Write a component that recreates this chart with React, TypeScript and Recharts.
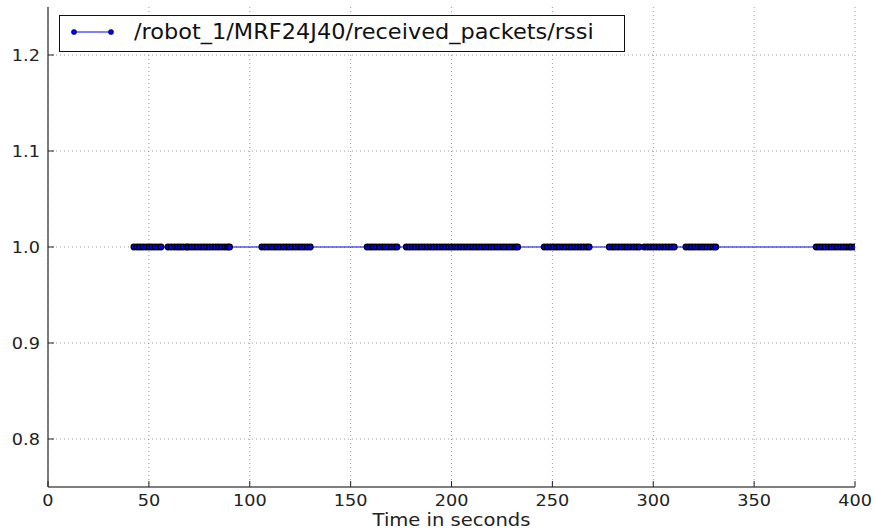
import React from "react";
import { LineChart, Line, XAxis, YAxis, CartesianGrid } from "recharts";

const times: number[] = [
  42.6, 44.1, 45.5, 47.0, 48.6, 50.1, 51.5, 53.0, 54.6, 56.0,
  59.5, 61.0, 62.6, 64.1, 65.5, 67.0, 68.6, 69.5,
  71.0, 72.5, 74.0, 75.6, 77.1, 78.5, 80.0, 81.6, 83.1, 84.5, 86.0, 87.6, 89.0, 90.0,
  106.0, 107.5, 109.0, 110.6, 112.1, 113.5, 115.0, 116.6, 118.1, 119.5, 121.0, 122.6, 124.1, 125.5, 127.0, 128.6, 130.0,
  158.2, 159.7, 161.1, 162.6, 164.2, 165.7, 167.1, 168.6, 170.2, 171.7, 173.0,
  177.6, 179.1, 180.6, 182.1, 183.6, 185.1, 186.6, 188.1, 189.6, 191.1, 192.6, 194.1, 195.6, 197.1, 198.6,
  200.1, 201.6, 203.1, 204.6, 206.1, 207.6, 209.1, 210.6, 212.1, 213.6, 215.1, 216.6, 218.1, 219.6,
  221.1, 222.6, 224.1, 225.6, 227.1, 228.6, 230.1, 231.6, 232.8,
  246.0, 247.5, 249.0, 250.6, 252.1, 253.5, 255.0, 256.6, 258.1, 259.5, 261.0, 262.6, 264.1, 265.5, 267.0, 268.2,
  278.2, 279.7, 281.1, 282.6, 284.2, 285.7, 287.1, 288.6, 290.2, 291.7, 293.0,
  295.6, 297.1, 298.6, 300.1, 301.6, 303.1, 304.6, 306.1, 307.6, 309.1, 310.4,
  316.2, 317.7, 319.1, 320.6, 322.2, 323.7, 325.1, 326.6, 328.2, 329.7, 331.0,
  380.8, 382.3, 383.7, 385.2, 386.8, 388.3, 389.7, 391.2, 392.8, 394.3, 395.7, 397.2, 398.2, 399.8,
];
const rssiValue = 1.0;
const xTicks: number[] = [0, 50, 100, 150, 200, 250, 300, 350, 400];
const yTicks: number[] = [0.8, 0.9, 1.0, 1.1, 1.2];
const seriesName = "/robot_1/MRF24J40/received_packets/rssi";
const xLabel = "Time in seconds";

const data = times.map((t) => ({ t, v: rssiValue }));

const FONT = "DejaVu Sans, sans-serif";
const TICK_COLOR = "#222";
const SPINE = "#555";
const STRETCH = 1.18;

const XTickBottom = (props: any) => {
  const { x, y, payload } = props;
  return (
    <g>
      <line x1={x} x2={x} y1={y} y2={y - 6} stroke={TICK_COLOR} strokeWidth={1} />
      <g transform={`translate(${x},${y + 19}) scale(${STRETCH},1)`}>
        <text x={0} y={0} textAnchor="middle" fontFamily={FONT} fontSize={15} fill="#222">
          {payload.value}
        </text>
      </g>
    </g>
  );
};
const XTickTop = (props: any) => {
  const { x, y } = props;
  return <line x1={x} x2={x} y1={y} y2={y + 6} stroke={TICK_COLOR} strokeWidth={1} />;
};
const YTickLeft = (props: any) => {
  const { x, y, payload } = props;
  return (
    <g>
      <line x1={x} x2={x + 6} y1={y} y2={y} stroke={TICK_COLOR} strokeWidth={1} />
      <g transform={`translate(${x - 8},${y + 5.5}) scale(${STRETCH},1)`}>
        <text x={0} y={0} textAnchor="end" fontFamily={FONT} fontSize={15} fill="#222">
          {Number(payload.value).toFixed(1)}
        </text>
      </g>
    </g>
  );
};
const YTickRight = (props: any) => {
  const { x, y } = props;
  return <line x1={x} x2={x - 6} y1={y} y2={y} stroke={TICK_COLOR} strokeWidth={1} />;
};

const XAxisLabel = (props: any) => {
  const vb = props.viewBox || {};
  const cx = vb.x + vb.width / 2;
  const by = vb.y + 39;
  return (
    <g transform={`translate(${cx},${by}) scale(1.15,1)`}>
      <text x={0} y={0} textAnchor="middle" fontFamily={FONT} fontSize={17} fill="#222">
        {xLabel}
      </text>
    </g>
  );
};

export default function App() {
  return (
    <div style={{ position: "absolute", left: 0, top: 0, width: 875, height: 531, background: "#fff" }}>
      <LineChart width={875} height={531} data={data} margin={{ top: 7, right: 20, bottom: 0, left: 0 }}>
        <CartesianGrid
          stroke="#999"
          strokeDasharray="1 3"
          horizontalValues={yTicks}
          verticalValues={xTicks}
        />
        <XAxis
          dataKey="t"
          type="number"
          domain={[0, 400]}
          ticks={xTicks}
          height={44}
          tickSize={0}
          tickMargin={0}
          tickLine={false}
          axisLine={{ stroke: SPINE, strokeWidth: 1.5 }}
          tick={<XTickBottom />}
          interval={0}
          allowDataOverflow
          label={<XAxisLabel />}
        />
        <XAxis
          xAxisId="top"
          orientation="top"
          dataKey="t"
          type="number"
          domain={[0, 400]}
          ticks={xTicks}
          height={0}
          tickSize={0}
          tickMargin={0}
          tickLine={false}
          axisLine={{ stroke: SPINE, strokeWidth: 1.5 }}
          tick={<XTickTop />}
          interval={0}
        />
        <YAxis
          type="number"
          domain={[0.75, 1.25]}
          ticks={yTicks}
          width={48}
          tickSize={0}
          tickMargin={0}
          tickLine={false}
          axisLine={{ stroke: SPINE, strokeWidth: 1.5 }}
          tick={<YTickLeft />}
          interval={0}
          allowDataOverflow
        />
        <YAxis
          yAxisId="right"
          orientation="right"
          type="number"
          domain={[0.75, 1.25]}
          ticks={yTicks}
          width={0}
          tickSize={0}
          tickMargin={0}
          tickLine={false}
          axisLine={{ stroke: SPINE, strokeWidth: 1.5 }}
          tick={<YTickRight />}
          interval={0}
        />
        <Line
          dataKey="v"
          type="linear"
          stroke="#0000ff"
          strokeWidth={1}
          dot={{ r: 2.8, fill: "#0000ff", stroke: "#000", strokeWidth: 1.3 }}
          isAnimationActive={false}
        />
      </LineChart>
      <div
        style={{
          position: "absolute",
          left: 59,
          top: 15,
          width: 566,
          height: 37,
          boxSizing: "border-box",
          border: "1px solid #111",
          background: "#fff",
          fontFamily: FONT,
          fontSize: 22,
          color: "#111",
        }}
      >
        <svg width={50} height={34} style={{ position: "absolute", left: 8, top: 0 }}>
          <line x1={6} x2={43} y1={16} y2={16} stroke="#0000ff" strokeWidth={1} />
          <circle cx={6} cy={16} r={2.6} fill="#0000ff" stroke="#000" strokeWidth={0.5} />
          <circle cx={43} cy={16} r={2.6} fill="#0000ff" stroke="#000" strokeWidth={0.5} />
        </svg>
        <span
          style={{
            position: "absolute",
            left: 74,
            top: 3,
            whiteSpace: "nowrap",
            lineHeight: "26px",
            transformOrigin: "0 0",
            transform: "scaleX(1.02)",
            display: "inline-block",
          }}
        >
          {seriesName}
        </span>
      </div>
    </div>
  );
}
